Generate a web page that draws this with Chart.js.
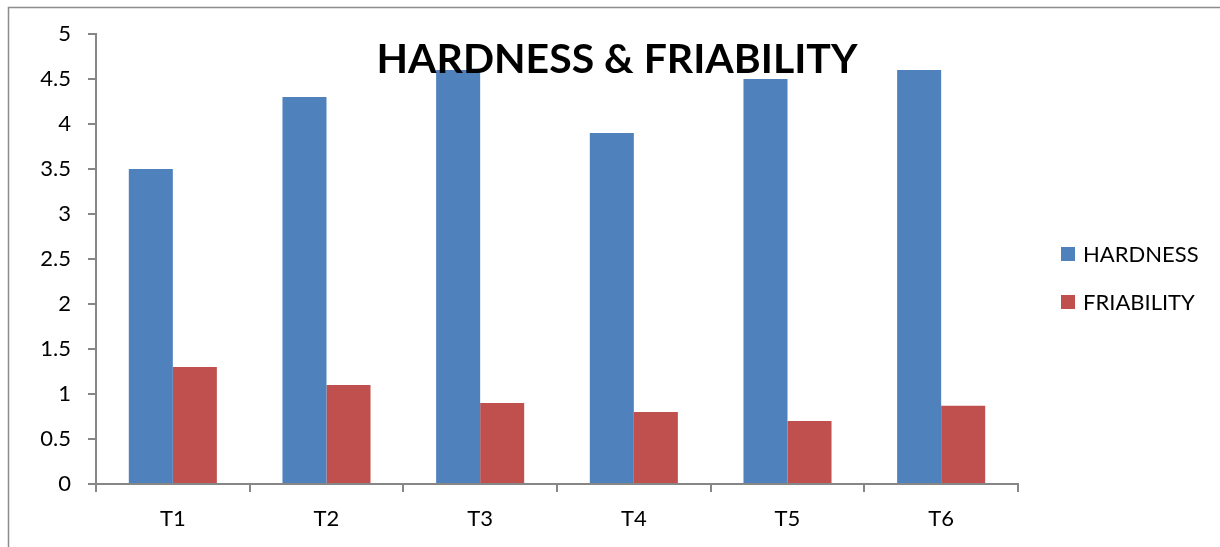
<!DOCTYPE html>
<html>
<head>
<meta charset="utf-8">
<script src="https://cdn.jsdelivr.net/npm/chart.js@4"></script>
<style>
  html, body { margin: 0; padding: 0; background: #fff; }
  #wrap { width: 1220px; height: 547px; }
</style>
</head>
<body>
<div id="wrap"><canvas id="chart" width="1220" height="547"></canvas></div>
<script>
const categories = ["T1", "T2", "T3", "T4", "T5", "T6"];
const hardness = [3.5, 4.3, 4.6, 3.9, 4.5, 4.6];
const friability = [1.3, 1.1, 0.9, 0.8, 0.7, 0.87];
const seriesNames = ["HARDNESS", "FRIABILITY"];
const chartTitle = "HARDNESS & FRIABILITY";

const FONT = "Lato, 'Open Sans', sans-serif";
const AXIS = "#868686";

// frame, title and legend drawn by hand
const extras = {
  id: "extras",
  beforeDraw(chart) {
    const ctx = chart.ctx;
    ctx.save();
    ctx.strokeStyle = "#8c8c8c";
    ctx.lineWidth = 1.5;
    ctx.beginPath();
    ctx.moveTo(8.5, 547);
    ctx.lineTo(8.5, 7.5);
    ctx.lineTo(1220, 7.5);
    ctx.stroke();
    ctx.restore();
  },
  afterDraw(chart) {
    const ctx = chart.ctx;
    ctx.save();
    // title on top of the bars
    let size = 40;
    ctx.font = "bold " + size + "px " + FONT;
    const w = ctx.measureText(chartTitle).width;
    size = size * 481 / w;
    ctx.font = "bold " + size + "px " + FONT;
    ctx.fillStyle = "#000";
    ctx.textAlign = "center";
    ctx.textBaseline = "middle";
    ctx.fillText(chartTitle, 617, 60);

    // legend
    ctx.font = "22px " + FONT;
    ctx.textAlign = "left";
    const ys = [254, 302];
    chart.data.datasets.forEach((ds, i) => {
      ctx.fillStyle = ds.backgroundColor;
      ctx.fillRect(1061, ys[i] - 7, 14, 14);
      ctx.fillStyle = "#000";
      ctx.fillText(ds.label, 1083, ys[i] + 1);
    });
    ctx.restore();
  }
};

new Chart(document.getElementById("chart"), {
  type: "bar",
  data: {
    labels: categories,
    datasets: [
      { label: seriesNames[0], data: hardness, backgroundColor: "#4F81BD" },
      { label: seriesNames[1], data: friability, backgroundColor: "#C0504D" }
    ]
  },
  options: {
    responsive: false,
    animation: false,
    devicePixelRatio: 1,
    categoryPercentage: 0.573,
    barPercentage: 1,
    layout: { padding: { left: 0, top: 34, right: 202, bottom: 0 } },
    plugins: {
      legend: { display: false },
      title: { display: false },
      tooltip: { enabled: false }
    },
    scales: {
      x: {
        grid: {
          offset: true,
          drawOnChartArea: false,
          color: AXIS,
          lineWidth: 2,
          tickLength: 8
        },
        border: { color: AXIS, width: 2 },
        ticks: { color: "#000", font: { family: FONT, size: 22 }, padding: 14 },
        afterFit(scale) { scale.height = 63; }
      },
      y: {
        min: 0,
        max: 5,
        grid: {
          drawOnChartArea: false,
          color: AXIS,
          lineWidth: 2,
          tickLength: 8
        },
        border: { color: AXIS, width: 2 },
        ticks: {
          stepSize: 0.5,
          color: "#000",
          padding: 17,
          font: { family: FONT, size: 22 },
          callback: v => String(v)
        },
        afterFit(scale) { scale.width = 96; }
      }
    }
  },
  plugins: [extras]
});
</script>
</body>
</html>
